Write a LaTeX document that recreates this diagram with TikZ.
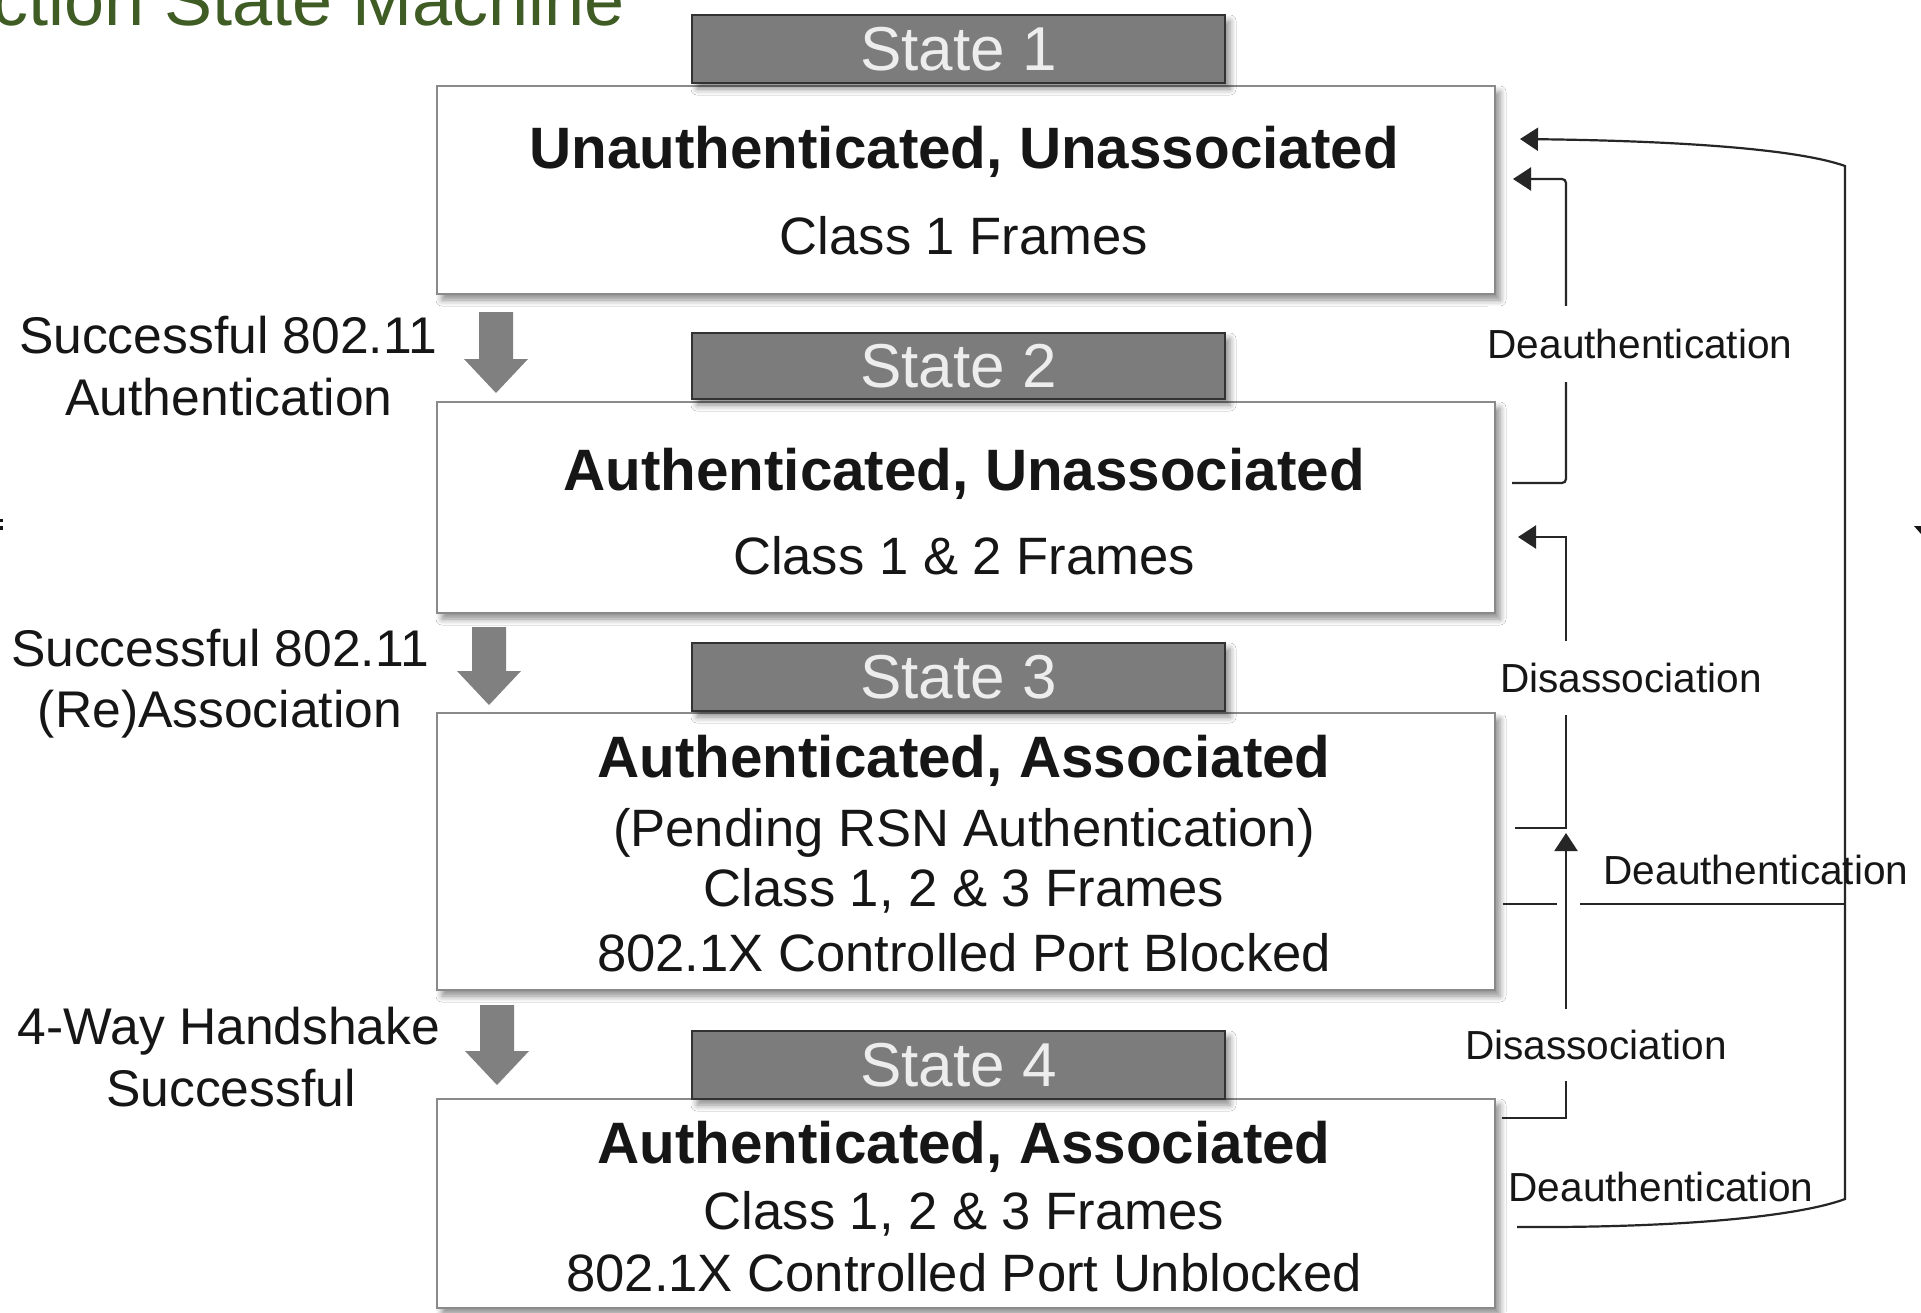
\documentclass[tikz,border=0pt]{standalone}
\usepackage{fontspec}
\setmainfont{Liberation Sans}
\usetikzlibrary{arrows.meta,calc,shadows.blur}

\definecolor{titlegreen}{RGB}{62,92,36}
\definecolor{hdrfill}{RGB}{124,124,124}
\definecolor{hdrline}{RGB}{50,50,50}
\definecolor{boxline}{RGB}{138,138,138}
\definecolor{ink}{RGB}{22,22,22}
\definecolor{wirecol}{RGB}{38,38,38}
\definecolor{stepgray}{RGB}{128,128,128}

% gray block arrow pointing down: centre x, top y, tip y
\newcommand\stepArrow[3]{%
  \fill[stepgray] ({#1-17},#2) -- ({#1+17},#2) -- ({#1+17},{#3-34}) -- ({#1+32},{#3-34})
    -- (#1,#3) -- ({#1-32},{#3-34}) -- ({#1-17},{#3-34}) -- cycle;}

\begin{document}
\begin{tikzpicture}[x=0.5pt,y=-0.5pt,
  softshadow/.style={blur shadow={shadow xshift=2.5pt,shadow yshift=-3pt,
      shadow blur radius=3pt,shadow blur steps=6,shadow opacity=45}},
  statebox/.style={draw=boxline,line width=1.2pt,fill=white,anchor=north west,
      minimum width=529pt,inner sep=0pt,outer sep=0pt,softshadow},
  statehdr/.style={draw=hdrline,line width=1.2pt,fill=hdrfill,anchor=north west,
      minimum width=266.5pt,inner sep=0pt,outer sep=0pt,softshadow,
      text=white!93!black,font=\fontsize{31}{36}\selectfont},
  boldline/.style={anchor=base,text=ink,font=\fontsize{29.2}{34}\selectfont\bfseries,inner sep=0pt},
  plainline/.style={anchor=base,text=ink,font=\fontsize{26.3}{31}\selectfont,inner sep=0pt},
  steplabel/.style={anchor=base,text=ink,font=\fontsize{25.8}{31}\selectfont,inner sep=0pt},
  wirelabel/.style={text=ink,font=\fontsize{20.3}{24}\selectfont,inner sep=0pt},
  gaplabel/.style={wirelabel,fill=white},
  wire/.style={draw=wirecol,line width=1.1pt},
  tip/.style={-{Triangle[length=9pt,width=11.5pt]}},
]
\useasboundingbox (0,0) rectangle (1921,1312);
\fill[white] (0,0) rectangle (1921,1312);
\clip (0,0) rectangle (1921,1312);

% title
\node[anchor=base east,text=titlegreen,font=\fontsize{36}{42}\selectfont,inner sep=0pt]
  (title) at (625,25) {ction State Machine};

% state boxes
\node[statebox,minimum height=104pt]   (s1) at (437,86)   {};
\node[statebox,minimum height=105.5pt] (s2) at (437,402)  {};
\node[statebox,minimum height=138.5pt] (s3) at (437,713)  {};
\node[statebox,minimum height=104.5pt] (s4) at (437,1099) {};

% state headers
\node[statehdr,minimum height=34pt] (h1) at (692,15)   {State 1};
\node[statehdr,minimum height=33pt] (h2) at (692,333)  {State 2};
\node[statehdr,minimum height=34pt] (h3) at (692,643)  {State 3};
\node[statehdr,minimum height=34pt] (h4) at (692,1031) {State 4};

% box contents
\node[boldline]  (t1a) at (964,168) {Unauthenticated, Unassociated};
\node[plainline] (t1b) at (964,254) {Class 1 Frames};
\node[boldline]  (t2a) at (964,490) {Authenticated, Unassociated};
\node[plainline] (t2b) at (964,574) {Class 1 \& 2 Frames};
\node[boldline]  (t3a) at (964,777) {Authenticated, Associated};
\node[plainline] (t3b) at (964,846) {(Pending RSN Authentication)};
\node[plainline] (t3c) at (964,906) {Class 1, 2 \& 3 Frames};
\node[plainline] (t3d) at (964,971) {802.1X Controlled Port Blocked};
\node[boldline]  (t4a) at (964,1163) {Authenticated, Associated};
\node[plainline] (t4b) at (964,1229) {Class 1, 2 \& 3 Frames};
\node[plainline] (t4c) at (964,1291) {802.1X Controlled Port Unblocked};

% transitions on the left
\stepArrow{496}{312}{393}
\stepArrow{489}{627}{705}
\stepArrow{497}{1005}{1085}
\node[steplabel] (a1) at (228,353)  {Successful 802.11};
\node[steplabel] (a2) at (229,415)  {Authentication};
\node[steplabel] (b1) at (220,666)  {Successful 802.11};
\node[steplabel] (b2) at (220,727)  {(Re)Association};
\node[steplabel] (c1) at (229,1044) {4-Way Handshake};
\node[steplabel] (c2) at (231,1106) {Successful};

% end points beside the boxes
\coordinate (e1a) at ($(s1.north east)+(25,53)$);
\coordinate (e1b) at ($(s1.north east)+(18,93)$);
\coordinate (x2)  at ($(s2.north east)+(17,81)$);
\coordinate (e2)  at ($(s2.north east)+(23,135)$);
\coordinate (x3b) at ($(s3.north east)+(20,115)$);
\coordinate (x3a) at ($(s3.north east)+(8,191)$);
\coordinate (x4a) at ($(s4.north east)+(7,19)$);
\coordinate (x4b) at ($(s4.north east)+(22,128)$);
\coordinate (j3)  at (x3b -| 1566,0);

% deauthentication back to state 1 (outer rail)
\draw[wire,tip] (x4b) .. controls (1700,1228) and (1805,1214) .. (1845,1199)
  -- (1845,166) .. controls (1800,150) and (1690,141) .. (e1a);
% deauthentication from state 3 joins the outer rail, hopping the inner rail
\draw[wire] (x3a) -- ($(x3a -| j3)+(-9,0)$);
\draw[wire] ($(x3a -| j3)+(14,0)$) -- (x3a -| 1845,0);
% deauthentication from state 2
\draw[wire,tip,rounded corners=2pt] (x2) -- (x2 -| j3) -- (e1b -| j3) -- (e1b);
% disassociation from state 3
\draw[wire,tip] (x3b) -- (j3) -- (e2 -| j3) -- (e2);
% disassociation from state 4 merging upward
\draw[wire,tip] (x4a) -- (x4a -| j3) -- ($(j3)+(0,5)$);

% transition labels
\node[gaplabel,minimum height=38pt] (l2) at (1640,344)  {Deauthentication};
\node[gaplabel,minimum height=37pt] (l3) at (1631,678)  {Disassociation};
\node[gaplabel,minimum height=36pt] (l4) at (1596,1045) {Disassociation};
\node[wirelabel] (l5) at (1756,870)  {Deauthentication};
\node[wirelabel] (l1) at (1661,1187) {Deauthentication};

% fragments at the picture edges
\fill[ink] (0,519) rectangle (2.5,522);
\fill[ink] (0,526) rectangle (2.5,530);
\fill[ink] (1914,526) -- (1921,526) -- (1921,534) -- cycle;
\end{tikzpicture}
\end{document}
